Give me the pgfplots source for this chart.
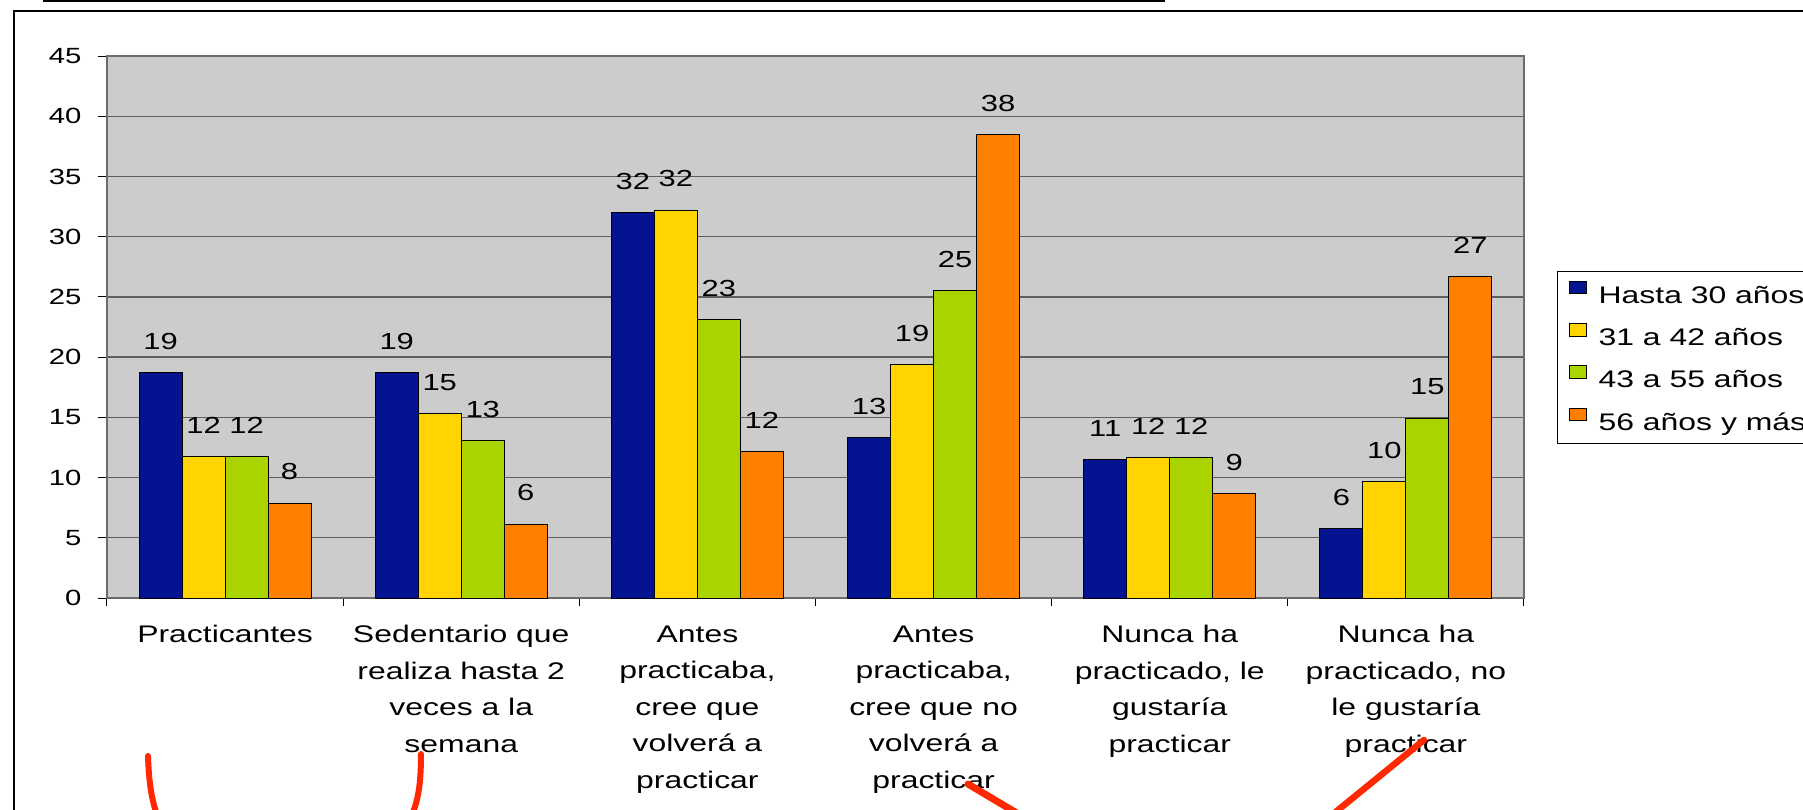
\documentclass[border=0pt]{standalone}
\usepackage{pgfplots}
\pgfplotsset{compat=1.18}
\usepackage{pgfplotstable}
\usepackage{fontspec}
\setmainfont{Liberation Sans}[FakeStretch=1.33]
\definecolor{cA}{RGB}{4,20,145}
\definecolor{cB}{RGB}{255,212,0}
\definecolor{cC}{RGB}{170,212,0}
\definecolor{cD}{RGB}{255,127,0}
\definecolor{bgG}{RGB}{204,204,204}
\definecolor{gridG}{RGB}{95,95,95}
\definecolor{annot}{RGB}{255,40,0}

\pgfplotstableread{
x y lab
0 18.73 19
1 18.73 19
2 31.97 32
3 13.3 13
4 11.5 11
5 5.79 6
}\tA
\pgfplotstableread{
x y lab
0 11.74 12
1 15.33 15
2 32.2 32
3 19.35 19
4 11.64 12
5 9.67 10
}\tB
\pgfplotstableread{
x y lab
0 11.74 12
1 13.07 13
2 23.1 23
3 25.5 25
4 11.64 12
5 14.94 15
}\tC
\pgfplotstableread{
x y lab
0 7.87 8
1 6.13 6
2 12.17 12
3 38.5 38
4 8.64 9
5 26.7 27
}\tD

\begin{document}
\begin{tikzpicture}
\useasboundingbox (0pt,0pt) rectangle (721.2pt,-324pt);
\fill[white] (0pt,0pt) rectangle (721.2pt,-324pt);
\draw[black, line width=0.7pt] (5.6pt,-4.4pt) rectangle (730pt,-330pt);
\draw[black, line width=0.8pt] (17.2pt,-0.4pt) -- (466pt,-0.4pt);
\begin{axis}[
  at={(42.8pt,-239.2pt)}, anchor=south west,
  scale only axis, width=566.8pt, height=216.8pt,
  xmin=-0.5, xmax=5.5, ymin=0, ymax=45,
  ytick={0,5,...,45},
  xtick={0,...,5},
  minor xtick={-0.5,0.5,...,5.5},
  xticklabels={
    {Practicantes},
    {Sedentario que\\realiza hasta 2\\veces a la\\semana},
    {Antes\\practicaba,\\cree que\\volverá a\\practicar},
    {Antes\\practicaba,\\cree que no\\volverá a\\practicar},
    {Nunca ha\\practicado, le\\gustaría\\practicar},
    {Nunca ha\\practicado, no\\le gustaría\\practicar}},
  tick align=outside,
  major tick length=3.6pt, minor tick length=3pt,
  major x tick style={draw=none},
  minor x tick style={draw=black, line width=0.4pt},
  ytick style={draw=black, line width=0.4pt},
  xtick pos=bottom, ytick pos=left,
  /pgf/number format/assume math mode=true,
  yticklabel style={font=\fontsize{8.8}{10}\selectfont, inner sep=0pt, xshift=-6.4pt},
  xticklabel style={font=\fontsize{9.6}{14.6}\selectfont, align=center, anchor=north, inner sep=0pt, yshift=-7.2pt},
  axis background/.style={fill=bgG},
  axis line style={draw=gray!85!black, line width=0.5pt},
  ymajorgrids, grid style={draw=gridG, line width=0.55pt},
  ybar=0pt, bar width=17.2pt,
  clip=false,
  point meta=explicit symbolic,
  nodes near coords,
  every node near coord/.append style={font=\fontsize{9.3}{10}\selectfont, anchor=south, inner sep=0pt, yshift=9pt, text=black},
  legend style={at={(1.0233,0.6033)}, anchor=north west, draw=black, line width=0.5pt, fill=white,
    font=\fontsize{9.6}{11}\selectfont, inner xsep=4.4pt, inner ysep=3.7pt, row sep=6.4pt,
    nodes={inner sep=0pt}},
  legend cell align=left,
  legend image code/.code={\draw[#1, draw=black, line width=0.4pt] (0pt,1.1pt) rectangle (6.8pt,6.1pt);
    \path (11.6pt,3pt);},
]
\addplot[fill=cA, draw=black, line width=0.4pt] table[x=x, y=y, meta=lab] {\tA};
\addplot[fill=cB, draw=black, line width=0.4pt] table[x=x, y=y, meta=lab] {\tB};
\addplot[fill=cC, draw=black, line width=0.4pt] table[x=x, y=y, meta=lab] {\tC};
\addplot[fill=cD, draw=black, line width=0.4pt] table[x=x, y=y, meta=lab] {\tD};
\legend{Hasta 30 años, 31 a 42 años, 43 a 55 años, 56 años y más}
\end{axis}
\begin{scope}[x=0.4pt, y=-0.4pt, line cap=round]
\draw[annot, line width=2.4pt] (148,756) .. controls (149,785) and (152,800) .. (157,815);
\draw[annot, line width=2.4pt] (421,754) .. controls (421,785) and (418,800) .. (412,815);
\draw[annot, line width=2.8pt] (968,784) -- (1020,815);
\draw[annot, line width=2.6pt] (1424,740) -- (1332,815);
\end{scope}
\end{tikzpicture}
\end{document}
